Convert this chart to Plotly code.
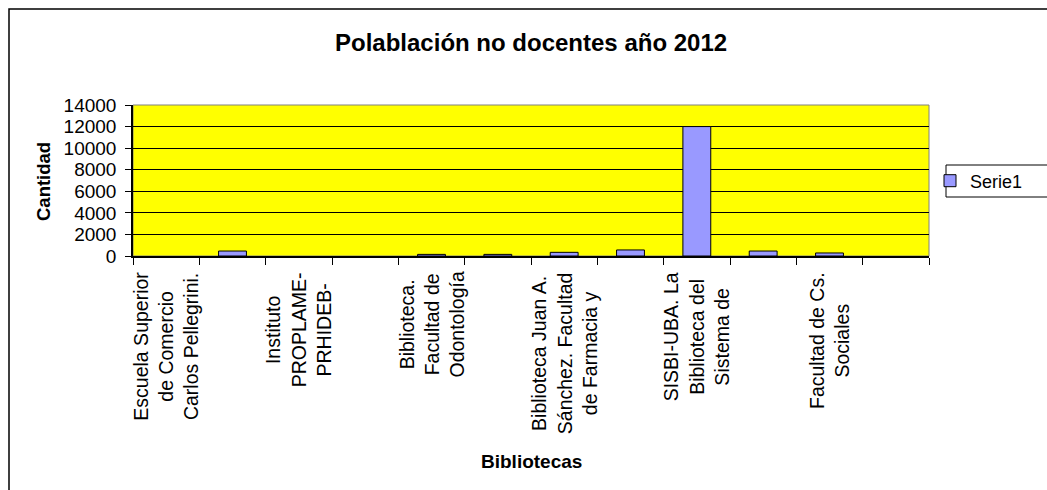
import plotly.graph_objects as go

# ---- data ----
positions = list(range(12))
labels = [
    "Escuela Superior<br>de Comercio<br>Carlos Pellegrini.",
    "",
    "Instituto<br>PROPLAME-<br>PRHIDEB-",
    "",
    "Biblioteca.<br>Facultad de<br>Odontología",
    "",
    "Biblioteca Juan A.<br>Sánchez. Facultad<br>de Farmacia y",
    "",
    "SISBI-UBA. La<br>Biblioteca del<br>Sistema de",
    "",
    "Facultad de Cs.<br>Sociales",
    "",
]
values = [None, 460, None, None, 150, 150, 340, 560, 12000, 460, 280, None]
series_name = "Serie1"
title_text = "Polablación no docentes año 2012"
x_title = "Bibliotecas"
y_title = "Cantidad"
y_ticks = [0, 2000, 4000, 6000, 8000, 10000, 12000, 14000]

FONT = "Liberation Sans, Arial, sans-serif"

# plot area in pixels (for paper conversions)
W, H = 1047, 490
L, R, T, B = 133, 929, 105, 256
pw, ph = R - L, B - T


def px_x(px):
    return (px - L) / pw


def px_y(py):
    return (B - py) / ph


fig = go.Figure()
fig.add_trace(go.Bar(
    x=positions, y=values, name=series_name, width=0.42,
    marker=dict(color="#9999FF", line=dict(color="black", width=1)),
    showlegend=True,
))

annotations = []
for p, lab in zip(positions, labels):
    if lab:
        annotations.append(dict(
            x=p, xref="x", y=px_y(270), yref="paper",
            text=lab, textangle=-90, showarrow=False,
            xanchor="center", yanchor="top", align="center",
            font=dict(family=FONT, size=19.5, color="black"),
        ))

annotations += [
    dict(x=0.5, xref="paper", y=px_y(42), yref="paper", text="<b>%s</b>" % title_text,
         showarrow=False, xanchor="center", yanchor="middle",
         font=dict(family=FONT, size=24, color="black")),
    dict(x=0.5, xref="paper", y=px_y(461), yref="paper", text="<b>%s</b>" % x_title,
         showarrow=False, xanchor="center", yanchor="middle",
         font=dict(family=FONT, size=19, color="black")),
    dict(x=px_x(43), xref="paper", y=px_y(182), yref="paper", text="<b>%s</b>" % y_title,
         showarrow=False, xanchor="center", yanchor="middle", textangle=-90,
         font=dict(family=FONT, size=18.5, color="black")),
]

shapes = [
    # plot area border (grey)
    dict(type="rect", xref="paper", yref="paper", x0=0, x1=1, y0=0, y1=1,
         line=dict(color="#808080", width=1), layer="below"),
    # outer chart frame (extends past the window on the right and bottom)
    dict(type="rect", xref="paper", yref="paper",
         x0=px_x(9), x1=px_x(1060), y0=px_y(9), y1=px_y(510),
         line=dict(color="black", width=1.5), layer="below"),
    # legend box
    dict(type="rect", xref="paper", yref="paper",
         x0=px_x(946), x1=px_x(1060), y0=px_y(165), y1=px_y(197),
         line=dict(color="black", width=1), fillcolor="white", layer="below"),
]

fig.update_layout(
    width=W, height=H,
    margin=dict(l=L, r=W - R, t=T, b=H - B, autoexpand=False),
    paper_bgcolor="white",
    plot_bgcolor="#FFFF00",
    font=dict(family=FONT, size=18, color="black"),
    annotations=annotations,
    shapes=shapes,
    legend=dict(
        x=px_x(930), y=px_y(181), xanchor="left", yanchor="middle",
        borderwidth=0, bgcolor="rgba(0,0,0,0)",
        font=dict(family=FONT, size=18, color="black"),
        itemwidth=30,
    ),
    xaxis=dict(
        range=[-0.5, 11.5], tickmode="array",
        tickvals=[i - 0.5 for i in range(13)], showticklabels=False,
        ticks="outside", ticklen=7, tickcolor="black", tickwidth=1,
        showgrid=False, zeroline=False,
        showline=True, linecolor="black", linewidth=1.5,
        fixedrange=True,
    ),
    yaxis=dict(
        range=[0, 14000], tickmode="array", tickvals=y_ticks,
        ticktext=[str(v) for v in y_ticks],
        ticks="outside", ticklen=6, tickcolor="black", tickwidth=1,
        ticklabelstandoff=5,
        showgrid=True, gridcolor="black", gridwidth=1,
        zeroline=False, showline=True, linecolor="black", linewidth=1.5,
        tickfont=dict(family=FONT, size=19, color="black"),
        fixedrange=True,
    ),
)

fig.write_html("out.html", config={"displayModeBar": False},
               post_script="document.body.style.margin='0';")
